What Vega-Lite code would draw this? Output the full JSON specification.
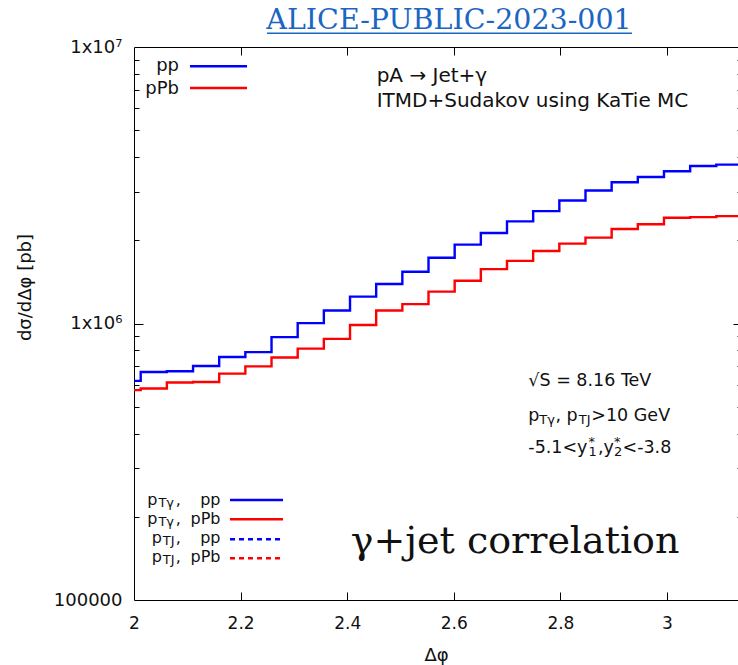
{
  "$schema": "https://vega.github.io/schema/vega-lite/v6.json",
  "width": 604,
  "height": 553,
  "autosize": "none",
  "padding": {"left": 134, "top": 47, "right": 0, "bottom": 65},
  "background": "white",
  "config": {
    "view": {"stroke": null},
    "font": "DejaVu Sans",
    "axis": {
      "grid": false,
      "ticks": true,
      "domainColor": "#000",
      "domainWidth": 1,
      "tickColor": "#000",
      "tickWidth": 1,
      "tickOpacity": 1,
      "labelColor": "#111",
      "titleColor": "#111",
      "labelFont": "DejaVu Sans",
      "titleFont": "DejaVu Sans",
      "titleFontWeight": "normal"
    },
    "text": {"font": "DejaVu Sans", "fill": "#111"}
  },
  "datasets": {
    "curves": [
      {"dphi": 2.0, "sigma": 620000, "series": "pp"},
      {"dphi": 2.012583, "sigma": 668000, "series": "pp"},
      {"dphi": 2.06167, "sigma": 672000, "series": "pp"},
      {"dphi": 2.110758, "sigma": 702000, "series": "pp"},
      {"dphi": 2.159845, "sigma": 757000, "series": "pp"},
      {"dphi": 2.208932, "sigma": 788000, "series": "pp"},
      {"dphi": 2.25802, "sigma": 893000, "series": "pp"},
      {"dphi": 2.307107, "sigma": 1003000, "series": "pp"},
      {"dphi": 2.356194, "sigma": 1114000, "series": "pp"},
      {"dphi": 2.405282, "sigma": 1251000, "series": "pp"},
      {"dphi": 2.454369, "sigma": 1389000, "series": "pp"},
      {"dphi": 2.503457, "sigma": 1539000, "series": "pp"},
      {"dphi": 2.552544, "sigma": 1728000, "series": "pp"},
      {"dphi": 2.601632, "sigma": 1929000, "series": "pp"},
      {"dphi": 2.650719, "sigma": 2125000, "series": "pp"},
      {"dphi": 2.699806, "sigma": 2341000, "series": "pp"},
      {"dphi": 2.748894, "sigma": 2550000, "series": "pp"},
      {"dphi": 2.797981, "sigma": 2786000, "series": "pp"},
      {"dphi": 2.847068, "sigma": 3027000, "series": "pp"},
      {"dphi": 2.896156, "sigma": 3242000, "series": "pp"},
      {"dphi": 2.945243, "sigma": 3388000, "series": "pp"},
      {"dphi": 2.994331, "sigma": 3552000, "series": "pp"},
      {"dphi": 3.043418, "sigma": 3711000, "series": "pp"},
      {"dphi": 3.092505, "sigma": 3754000, "series": "pp"},
      {"dphi": 3.141593, "sigma": 3754000, "series": "pp"},
      {"dphi": 2.0, "sigma": 574000, "series": "pPb"},
      {"dphi": 2.012583, "sigma": 582000, "series": "pPb"},
      {"dphi": 2.06167, "sigma": 612000, "series": "pPb"},
      {"dphi": 2.110758, "sigma": 614000, "series": "pPb"},
      {"dphi": 2.159845, "sigma": 659000, "series": "pPb"},
      {"dphi": 2.208932, "sigma": 700000, "series": "pPb"},
      {"dphi": 2.25802, "sigma": 753000, "series": "pPb"},
      {"dphi": 2.307107, "sigma": 811000, "series": "pPb"},
      {"dphi": 2.356194, "sigma": 880000, "series": "pPb"},
      {"dphi": 2.405282, "sigma": 988000, "series": "pPb"},
      {"dphi": 2.454369, "sigma": 1114000, "series": "pPb"},
      {"dphi": 2.503457, "sigma": 1175000, "series": "pPb"},
      {"dphi": 2.552544, "sigma": 1304000, "series": "pPb"},
      {"dphi": 2.601632, "sigma": 1428000, "series": "pPb"},
      {"dphi": 2.650719, "sigma": 1573000, "series": "pPb"},
      {"dphi": 2.699806, "sigma": 1685000, "series": "pPb"},
      {"dphi": 2.748894, "sigma": 1830000, "series": "pPb"},
      {"dphi": 2.797981, "sigma": 1945000, "series": "pPb"},
      {"dphi": 2.847068, "sigma": 2044000, "series": "pPb"},
      {"dphi": 2.896156, "sigma": 2196000, "series": "pPb"},
      {"dphi": 2.945243, "sigma": 2284000, "series": "pPb"},
      {"dphi": 2.994331, "sigma": 2412000, "series": "pPb"},
      {"dphi": 3.043418, "sigma": 2426000, "series": "pPb"},
      {"dphi": 3.092505, "sigma": 2446000, "series": "pPb"},
      {"dphi": 3.141593, "sigma": 2446000, "series": "pPb"}
    ],
    "keys": [
      {"dphi": 2.1051, "dphi2": 2.212, "sigma": 8518000, "series": "pp", "pt": "any"},
      {"dphi": 2.1051, "dphi2": 2.212, "sigma": 7109000, "series": "pPb", "pt": "any"},
      {"dphi": 2.1801, "dphi2": 2.2795, "sigma": 230000, "series": "pp", "pt": "photon"},
      {"dphi": 2.1801, "dphi2": 2.2795, "sigma": 195900, "series": "pPb", "pt": "photon"},
      {"dphi": 2.1801, "dphi2": 2.2795, "sigma": 165800, "series": "pp", "pt": "jet"},
      {"dphi": 2.1801, "dphi2": 2.2795, "sigma": 141600, "series": "pPb", "pt": "jet"}
    ],
    "keyNames": [
      {"dphi": 2.0844, "sigma": 8170000, "label": "pp"},
      {"dphi": 2.0844, "sigma": 6785000, "label": "pPb"}
    ],
    "process": [
      {"dphi": 2.4553, "sigma": 7470000, "label": "pA → Jet+γ"},
      {"dphi": 2.4553, "sigma": 6055000, "label": "ITMD+Sudakov using KaTie MC"}
    ],
    "cuts": [
      {"dphi": 2.7398, "sigma": 594000, "label": "√S = 8.16 TeV"},
      {"dphi": 2.7398, "sigma": 445000, "label": "p"},
      {"dphi": 2.7906, "sigma": 445000, "label": ", p"},
      {"dphi": 2.858, "sigma": 445000, "label": ">10 GeV"},
      {"dphi": 2.7398, "sigma": 341000, "label": "-5.1<y"},
      {"dphi": 2.8705, "sigma": 341000, "label": ",y"},
      {"dphi": 2.9165, "sigma": 341000, "label": "<-3.8"}
    ],
    "cutSubs": [
      {"dphi": 2.7604, "sigma": 445000, "label": "Tγ"},
      {"dphi": 2.8345, "sigma": 445000, "label": "TJ"},
      {"dphi": 2.8527, "sigma": 341000, "label": "1"},
      {"dphi": 2.9005, "sigma": 341000, "label": "2"}
    ],
    "cutSups": [
      {"dphi": 2.8527, "sigma": 341000, "label": "*"},
      {"dphi": 2.9005, "sigma": 341000, "label": "*"}
    ],
    "keyTerms": [
      {"dphi": 2.025, "sigma": 221500, "label": "p"},
      {"dphi": 2.0785, "sigma": 221500, "label": ","},
      {"dphi": 2.025, "sigma": 188700, "label": "p"},
      {"dphi": 2.0785, "sigma": 188700, "label": ","},
      {"dphi": 2.0332, "sigma": 160200, "label": "p"},
      {"dphi": 2.0785, "sigma": 160200, "label": ","},
      {"dphi": 2.0332, "sigma": 136800, "label": "p"},
      {"dphi": 2.0785, "sigma": 136800, "label": ","}
    ],
    "keyTermSubs": [
      {"dphi": 2.0458, "sigma": 221500, "label": "Tγ"},
      {"dphi": 2.0458, "sigma": 188700, "label": "Tγ"},
      {"dphi": 2.054, "sigma": 160200, "label": "TJ"},
      {"dphi": 2.054, "sigma": 136800, "label": "TJ"}
    ],
    "keyTermNames": [
      {"dphi": 2.1623, "sigma": 221500, "label": "pp"},
      {"dphi": 2.1623, "sigma": 188700, "label": "pPb"},
      {"dphi": 2.1623, "sigma": 160200, "label": "pp"},
      {"dphi": 2.1623, "sigma": 136800, "label": "pPb"}
    ],
    "banner": [
      {"dphi": 2.4066, "sigma": 147600, "label": "γ+jet correlation"}
    ],
    "heading": [
      {"dphi": 2.591, "sigma": 11588000, "label": "ALICE-PUBLIC-2023-001"}
    ],
    "headingLine": [
      {"dphi": 2.2495, "dphi2": 2.9343, "sigma": 11208000}
    ]
  },
  "layer": [
    {
      "layer": [
        {
          "data": {"name": "curves"},
          "mark": {"type": "line", "interpolate": "step-after", "strokeWidth": 2.4, "clip": true},
          "encoding": {
            "x": {
              "field": "dphi", "type": "quantitative",
              "scale": {"domain": [2, 3.1332], "nice": false, "zero": false},
              "axis": {
                "orient": "bottom",
                "values": [2, 2.2, 2.4, 2.6, 2.8, 3],
                "format": "~g",
                "ticks": false,
                "labelFlush": false,
                "labelOverlap": false,
                "labelFontSize": 17,
                "labelPadding": 15,
                "title": "Δφ",
                "titleFontSize": 18,
                "titleBaseline": "alphabetic",
                "titleY": 60
              }
            },
            "y": {
              "field": "sigma", "type": "quantitative",
              "scale": {"type": "log", "domain": [100000, 10000000], "nice": false},
              "axis": {
                "orient": "left",
                "values": [100000, 1000000, 10000000],
                "labelExpr": "datum.value == 100000 ? '100000' : datum.value == 1000000 ? '1x10⁶' : '1x10⁷'",
                "ticks": false,
                "labelOverlap": false,
                "labelFontSize": 18,
                "labelPadding": 12,
                "title": "dσ/dΔφ [pb]",
                "titleFontSize": 18,
                "titleAngle": 270,
                "titleAlign": "center",
                "titleBaseline": "middle",
                "titleX": -109,
                "titleY": 240
              }
            },
            "color": {
              "field": "series", "type": "nominal",
              "scale": {"domain": ["pp", "pPb"], "range": ["#0000ff", "#ff0000"]},
              "legend": null
            }
          }
        },
        {
          "data": {"name": "keys"},
          "mark": {"type": "rule", "strokeWidth": 2.4},
          "encoding": {
            "x": {"field": "dphi", "type": "quantitative", "scale": {"domain": [2, 3.1332], "nice": false, "zero": false}},
            "x2": {"field": "dphi2"},
            "y": {"field": "sigma", "type": "quantitative", "scale": {"type": "log", "domain": [100000, 10000000], "nice": false}},
            "color": {"field": "series", "type": "nominal", "scale": {"domain": ["pp", "pPb"], "range": ["#0000ff", "#ff0000"]}, "legend": null},
            "strokeDash": {"field": "pt", "type": "nominal", "scale": {"domain": ["any", "photon", "jet"], "range": [[1, 0], [1, 0], [5, 4]]}, "legend": null}
          }
        },
        {
          "data": {"name": "keyNames"},
          "mark": {"type": "text", "align": "right", "baseline": "alphabetic", "fontSize": 18},
          "encoding": {
            "x": {"field": "dphi", "type": "quantitative"},
            "y": {"field": "sigma", "type": "quantitative"},
            "text": {"field": "label"}
          }
        },
        {
          "data": {"name": "process"},
          "mark": {"type": "text", "align": "left", "baseline": "alphabetic", "fontSize": 20},
          "encoding": {
            "x": {"field": "dphi", "type": "quantitative"},
            "y": {"field": "sigma", "type": "quantitative"},
            "text": {"field": "label"}
          }
        },
        {
          "data": {"name": "cuts"},
          "mark": {"type": "text", "align": "left", "baseline": "alphabetic", "fontSize": 17.5},
          "encoding": {
            "x": {"field": "dphi", "type": "quantitative"},
            "y": {"field": "sigma", "type": "quantitative"},
            "text": {"field": "label"}
          }
        },
        {
          "data": {"name": "cutSubs"},
          "mark": {"type": "text", "align": "left", "baseline": "alphabetic", "fontSize": 13, "dy": 3},
          "encoding": {
            "x": {"field": "dphi", "type": "quantitative"},
            "y": {"field": "sigma", "type": "quantitative"},
            "text": {"field": "label"}
          }
        },
        {
          "data": {"name": "cutSups"},
          "mark": {"type": "text", "align": "left", "baseline": "alphabetic", "fontSize": 13, "dy": -7},
          "encoding": {
            "x": {"field": "dphi", "type": "quantitative"},
            "y": {"field": "sigma", "type": "quantitative"},
            "text": {"field": "label"}
          }
        },
        {
          "data": {"name": "keyTerms"},
          "mark": {"type": "text", "align": "left", "baseline": "alphabetic", "fontSize": 16},
          "encoding": {
            "x": {"field": "dphi", "type": "quantitative"},
            "y": {"field": "sigma", "type": "quantitative"},
            "text": {"field": "label"}
          }
        },
        {
          "data": {"name": "keyTermSubs"},
          "mark": {"type": "text", "align": "left", "baseline": "alphabetic", "fontSize": 13, "dy": 2},
          "encoding": {
            "x": {"field": "dphi", "type": "quantitative"},
            "y": {"field": "sigma", "type": "quantitative"},
            "text": {"field": "label"}
          }
        },
        {
          "data": {"name": "keyTermNames"},
          "mark": {"type": "text", "align": "right", "baseline": "alphabetic", "fontSize": 16},
          "encoding": {
            "x": {"field": "dphi", "type": "quantitative"},
            "y": {"field": "sigma", "type": "quantitative"},
            "text": {"field": "label"}
          }
        },
        {
          "data": {"name": "banner"},
          "mark": {"type": "text", "align": "left", "baseline": "alphabetic", "font": "DejaVu Serif", "fontSize": 38},
          "encoding": {
            "x": {"field": "dphi", "type": "quantitative"},
            "y": {"field": "sigma", "type": "quantitative"},
            "text": {"field": "label"}
          }
        },
        {
          "data": {"name": "heading"},
          "mark": {"type": "text", "align": "center", "baseline": "alphabetic", "font": "DejaVu Serif", "fontSize": 28.5, "fill": "#1a66c2"},
          "encoding": {
            "x": {"field": "dphi", "type": "quantitative"},
            "y": {"field": "sigma", "type": "quantitative"},
            "text": {"field": "label"}
          }
        },
        {
          "data": {"name": "headingLine"},
          "mark": {"type": "rule", "stroke": "#1a66c2", "strokeWidth": 1.5},
          "encoding": {
            "x": {"field": "dphi", "type": "quantitative"},
            "x2": {"field": "dphi2"},
            "y": {"field": "sigma", "type": "quantitative"}
          }
        }
      ]
    },
    {
      "data": {"name": "curves"},
      "mark": {"type": "point", "opacity": 0},
      "encoding": {
        "x": {
          "field": "dphi", "type": "quantitative",
          "scale": {"domain": [2, 3.1332], "nice": false, "zero": false},
          "axis": {"orient": "top", "offset": -553, "values": [2.2, 2.4, 2.6, 2.8, 3], "labels": false, "domain": false, "ticks": true, "tickColor": "#000", "tickOpacity": 1, "tickWidth": 1, "tickSize": 8, "title": null}
        },
        "y": {
          "field": "sigma", "type": "quantitative",
          "scale": {"type": "log", "domain": [100000, 10000000], "nice": false},
          "axis": {"orient": "right", "offset": -604, "values": [1000000], "labels": false, "domain": false, "ticks": true, "tickColor": "#000", "tickOpacity": 1, "tickWidth": 1, "tickSize": 9, "title": null}
        }
      }
    },
    {
      "data": {"name": "curves"},
      "mark": {"type": "point", "opacity": 0},
      "encoding": {
        "x": {
          "field": "dphi", "type": "quantitative",
          "scale": {"domain": [2, 3.1332], "nice": false, "zero": false},
          "axis": {"orient": "bottom", "offset": -553, "values": [2.2, 2.4, 2.6, 2.8, 3], "labels": false, "domain": true, "ticks": true, "tickColor": "#000", "tickOpacity": 1, "tickWidth": 1, "tickSize": 8, "title": null}
        },
        "y": {
          "field": "sigma", "type": "quantitative",
          "scale": {"type": "log", "domain": [100000, 10000000], "nice": false},
          "axis": {"orient": "right", "offset": -604, "values": [200000, 300000, 400000, 500000, 600000, 700000, 800000, 900000, 2000000, 3000000, 4000000, 5000000, 6000000, 7000000, 8000000, 9000000], "labels": false, "domain": false, "ticks": true, "tickColor": "#000", "tickOpacity": 1, "tickWidth": 1, "tickSize": 5, "title": null}
        }
      }
    },
    {
      "data": {"name": "curves"},
      "mark": {"type": "point", "opacity": 0},
      "encoding": {
        "x": {
          "field": "dphi", "type": "quantitative",
          "scale": {"domain": [2, 3.1332], "nice": false, "zero": false},
          "axis": null
        },
        "y": {
          "field": "sigma", "type": "quantitative",
          "scale": {"type": "log", "domain": [100000, 10000000], "nice": false},
          "axis": {"orient": "left", "offset": -608, "values": [1000000], "labels": false, "domain": false, "ticks": true, "tickColor": "#000", "tickOpacity": 1, "tickWidth": 1, "tickSize": 9, "title": null}
        }
      }
    },
    {
      "data": {"name": "curves"},
      "mark": {"type": "point", "opacity": 0},
      "encoding": {
        "x": {
          "field": "dphi", "type": "quantitative",
          "scale": {"domain": [2, 3.1332], "nice": false, "zero": false},
          "axis": null
        },
        "y": {
          "field": "sigma", "type": "quantitative",
          "scale": {"type": "log", "domain": [100000, 10000000], "nice": false},
          "axis": {"orient": "left", "offset": -608, "values": [200000, 300000, 400000, 500000, 600000, 700000, 800000, 900000, 2000000, 3000000, 4000000, 5000000, 6000000, 7000000, 8000000, 9000000], "labels": false, "domain": false, "ticks": true, "tickColor": "#000", "tickOpacity": 1, "tickWidth": 1, "tickSize": 5, "title": null}
        }
      }
    }
  ],
  "resolve": {"scale": {"x": "independent", "y": "independent"}}
}
